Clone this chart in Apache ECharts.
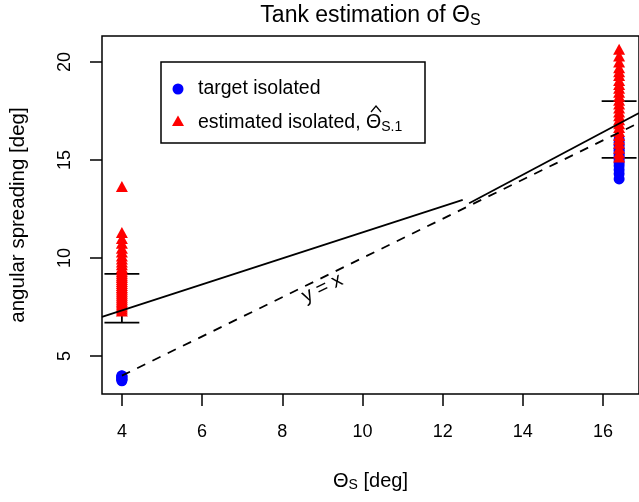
<!DOCTYPE html>
<html>
<head>
<meta charset="utf-8">
<script src="https://cdn.jsdelivr.net/npm/echarts@6/dist/echarts.min.js"></script>
<style>
  html, body { margin: 0; padding: 0; background: #fff; }
  #chart { width: 639px; height: 502px; }
</style>
</head>
<body>
<div id="chart"></div>
<script>
// ticks
const xTicks = [4, 6, 8, 10, 12, 14, 16];
const yTicks = [5, 10, 15, 20];

// the two true spreads
const thetaLow = 4;
const thetaHigh = 16.4;

// target isolated (blue)
const targetLowY = [3.74, 3.78, 3.82, 3.86, 3.9, 3.94, 3.98, 4.0];
const targetHighY = [14.03, 14.3, 14.5, 14.7, 14.85, 15.0, 15.1, 15.2, 15.3, 15.4, 15.5, 15.6, 15.75, 15.9, 16.05];

// estimated isolated (red)
const estLowY = [13.65, 11.3, 11.0, 10.75, 10.5, 10.3, 10.1, 9.95, 9.8, 9.65, 9.5, 9.4, 9.3, 9.2, 9.1, 9.0,
  8.9, 8.8, 8.7, 8.6, 8.5, 8.4, 8.3, 8.2, 8.1, 8.0, 7.9, 7.8, 7.7, 7.6, 7.5, 7.4, 7.3];
const estHighY = [20.64, 20.3, 20.0, 19.7, 19.5, 19.3, 19.05, 18.85, 18.65, 18.45, 18.25, 18.05, 17.85, 17.65,
  17.45, 17.25, 17.05, 16.85, 16.65, 16.45, 16.25, 16.05, 15.85, 15.6, 15.35, 15.15];

// error bars
const errX = [thetaLow, thetaHigh];
const errLo = [6.70, 15.11];
const errHi = [9.19, 18.0];

// fitted lines
const fit1X = [3.504, 12.5];
const fit1Y = [7.0, 12.96];
const fit2X = [12.66, 16.896];
const fit2Y = [12.79, 17.39];

// identity line and its label spot
const idX = [4, 16.896];
const idLabel = [9.0, 8.45];

const font = 'Liberation Sans, Arial, Helvetica, sans-serif';
const capHalf = 0.435;

const chart = echarts.init(document.getElementById('chart'));

const pts = (x, ys) => ys.map(y => [x, y]);

chart.setOption({
  animation: false,
  grid: {
    left: 101, top: 36, width: 539, height: 358,
    show: true, borderColor: '#000', borderWidth: 1.5, backgroundColor: 'transparent'
  },
  xAxis: {
    type: 'value', min: 3.504, max: 16.896,
    name: '{t|Θ}{s|S}{t| [deg]}',
    nameLocation: 'middle', nameGap: 76,
    nameTextStyle: {
      rich: {
        t: { fontSize: 20, fontFamily: font, color: '#000', lineHeight: 22 },
        s: { fontSize: 14, fontFamily: font, color: '#000', verticalAlign: 'bottom', lineHeight: 14 }
      }
    },
    axisLine: { show: false },
    splitLine: { show: false },
    axisTick: { show: true, inside: false, length: 12, customValues: xTicks, lineStyle: { color: '#000', width: 1.5 } },
    axisLabel: { customValues: xTicks, margin: 29, fontSize: 18, fontFamily: font, color: '#000' }
  },
  yAxis: {
    type: 'value', min: 3.065, max: 21.32,
    name: 'angular spreading [deg]',
    nameLocation: 'middle', nameGap: 73, nameRotate: 90,
    nameTextStyle: { fontSize: 20.5, fontFamily: font, color: '#000' },
    axisLine: { show: false },
    splitLine: { show: false },
    axisTick: { show: true, inside: false, length: 12, customValues: yTicks, lineStyle: { color: '#000', width: 1.5 } },
    axisLabel: { customValues: yTicks, rotate: 90, margin: 28, fontSize: 18, fontFamily: font, color: '#000' }
  },
  graphic: [
    {
      type: 'text', x: 370.5, y: 16,
      style: {
        text: '{t|Tank estimation of Θ}{s|S}',
        textAlign: 'center', textVerticalAlign: 'middle',
        rich: {
          t: { fontSize: 23, fontFamily: font, fill: '#000', lineHeight: 26 },
          s: { fontSize: 16, fontFamily: font, fill: '#000', verticalAlign: 'bottom', lineHeight: 16 }
        }
      }
    },
    {
      type: 'rect', shape: { x: 161, y: 62, width: 264, height: 81 },
      style: { fill: '#fff', stroke: '#000', lineWidth: 1.5 }
    },
    {
      type: 'circle', shape: { cx: 178, cy: 89, r: 5.5 },
      style: { fill: '#0000ff' }
    },
    {
      type: 'polygon', shape: { points: [[178, 115.5], [184, 126], [172, 126]] },
      style: { fill: '#ff0000' }
    },
    {
      type: 'text', x: 198, y: 89,
      style: { text: 'target isolated', font: '19.5px ' + font, fill: '#000', textVerticalAlign: 'middle' }
    },
    {
      type: 'text', x: 198, y: 123,
      style: {
        text: '{t|estimated isolated, Θ}{s|S.1}',
        textVerticalAlign: 'middle',
        rich: {
          t: { fontSize: 19.5, fontFamily: font, fill: '#000', lineHeight: 22 },
          s: { fontSize: 14, fontFamily: font, fill: '#000', verticalAlign: 'bottom', lineHeight: 14 }
        }
      }
    },
    {
      type: 'polyline', shape: { points: [[371, 112], [376, 106], [381, 112]] },
      style: { stroke: '#000', lineWidth: 1.2, fill: null }
    }
  ],
  series: [
    {
      type: 'line', data: idX.map(v => [v, v]), symbol: 'none', silent: true,
      lineStyle: { color: '#000', width: 1.8, type: [9, 8] }
    },
    {
      type: 'custom', silent: true,
      data: [idLabel],
      renderItem: function (params, api) {
        const p = api.coord([api.value(0), api.value(1)]);
        return {
          type: 'text', x: p[0], y: p[1], rotation: 26 * Math.PI / 180,
          style: {
            text: 'y = x', fill: '#000', font: '20px ' + font,
            textAlign: 'center', textVerticalAlign: 'middle'
          }
        };
      }
    },
    {
      type: 'line', data: fit1X.map((x, i) => [x, fit1Y[i]]), symbol: 'none', silent: true,
      lineStyle: { color: '#000', width: 1.8 }
    },
    {
      type: 'line', data: fit2X.map((x, i) => [x, fit2Y[i]]), symbol: 'none', silent: true,
      lineStyle: { color: '#000', width: 1.8 }
    },
    {
      type: 'scatter', symbol: 'circle', symbolSize: 11, silent: true,
      itemStyle: { color: '#0000ff', opacity: 1 },
      data: pts(thetaLow, targetLowY).concat(pts(thetaHigh, targetHighY))
    },
    {
      type: 'scatter', symbol: 'triangle', symbolSize: [12, 11], silent: true,
      itemStyle: { color: '#ff0000', opacity: 1 },
      data: pts(thetaLow, estLowY).concat(pts(thetaHigh, estHighY))
    },
    {
      type: 'custom', silent: true,
      data: errX.map((x, i) => [x, errLo[i], errHi[i]]),
      renderItem: function (params, api) {
        const x = api.value(0);
        const top = api.coord([x, api.value(2)]);
        const bot = api.coord([x, api.value(1)]);
        const l = api.coord([x - capHalf, 0])[0];
        const r = api.coord([x + capHalf, 0])[0];
        const st = { stroke: '#000', lineWidth: 1.8 };
        return {
          type: 'group',
          children: [
            { type: 'line', shape: { x1: top[0], y1: top[1], x2: bot[0], y2: bot[1] }, style: st },
            { type: 'line', shape: { x1: l, y1: top[1], x2: r, y2: top[1] }, style: st },
            { type: 'line', shape: { x1: l, y1: bot[1], x2: r, y2: bot[1] }, style: st }
          ]
        };
      }
    }
  ]
});
</script>
</body>
</html>
